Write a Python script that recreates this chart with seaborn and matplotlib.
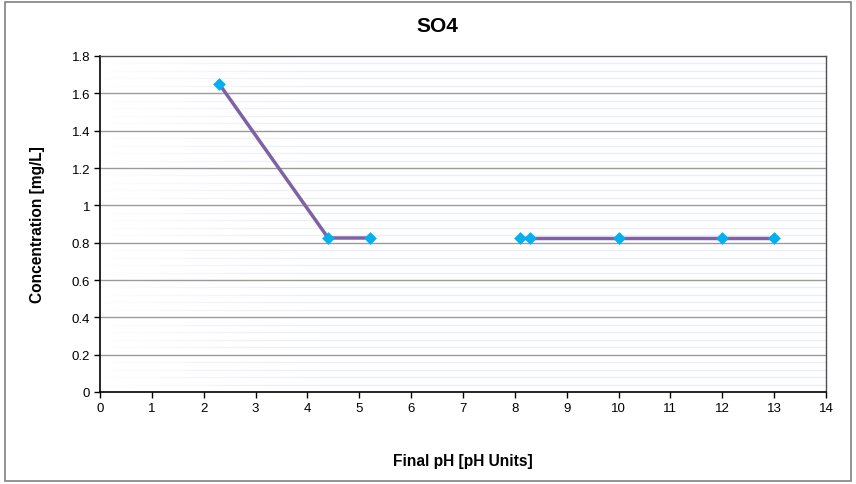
import numpy as np
import pandas as pd
import matplotlib
matplotlib.use("Agg")
import matplotlib.pyplot as plt
import seaborn as sns
from matplotlib.patches import Rectangle

ph_values = [2.3, 4.4, 5.2, 8.1, 8.3, 10, 12, 13]
so4_conc = [1.65, 0.825, 0.825, 0.825, 0.825, 0.825, 0.825, 0.825]
segment = [0, 0, 0, 1, 1, 1, 1, 1]
x_ticks = list(range(0, 15))
y_ticks = [0, 0.2, 0.4, 0.6, 0.8, 1.0, 1.2, 1.4, 1.6, 1.8]
y_tick_labels = ["0", "0.2", "0.4", "0.6", "0.8", "1", "1.2", "1.4", "1.6", "1.8"]

df = pd.DataFrame({"pH": ph_values, "conc": so4_conc, "seg": segment})

sns.set_style("white")
plt.rcParams["font.family"] = ["Liberation Sans", "DejaVu Sans"]
plt.rcParams["text.color"] = "black"
plt.rcParams["axes.labelcolor"] = "black"
plt.rcParams["xtick.color"] = "black"
plt.rcParams["ytick.color"] = "black"

fig = plt.figure(figsize=(8.56, 4.85), dpi=100)
ax = fig.add_axes([100/856, 1-393/485, 726/856, 336/485])

# faint stripes background
for yv in np.arange(0.04, 1.8, 0.04):
    if abs(yv/0.2 - round(yv/0.2)) > 1e-6:
        ax.axhline(yv, color="#e9edf6", lw=0.9, zorder=0)
# fade to white on the left
grad = np.zeros((2, 256, 4))
grad[..., :3] = 1.0
grad[..., 3] = np.linspace(1, 0, 256)[None, :] ** 1.5
ax.imshow(grad, extent=[0, 5, 0, 1.8], aspect="auto", zorder=0.5, interpolation="bilinear")

for yv in y_ticks[1:-1]:
    ax.axhline(yv, color="#9a9a9a", lw=1.0, zorder=1)

sns.lineplot(data=df, x="pH", y="conc", units="seg", estimator=None,
             color="#7f62a6", lw=2.5, ax=ax, zorder=3)
sns.scatterplot(data=df, x="pH", y="conc", marker="D", s=42, color="#00b0f0",
                edgecolor="#00b0f0", linewidth=0, ax=ax, zorder=4)

ax.set_xlim(0, 14)
ax.set_ylim(0, 1.8)
ax.set_xticks(x_ticks)
ax.set_xticklabels([str(t) for t in x_ticks], fontsize=9.5)
ax.set_yticks(y_ticks)
ax.set_yticklabels(y_tick_labels, fontsize=9.5)
ax.tick_params(axis="both", direction="out", length=4, width=1, color="black",
               labelcolor="black", pad=3)
ax.tick_params(axis="x", bottom=True)
ax.tick_params(axis="y", left=True)

for side in ["left", "bottom"]:
    ax.spines[side].set_color("black")
    ax.spines[side].set_linewidth(1.2)
for side in ["top", "right"]:
    ax.spines[side].set_color("#505050")
    ax.spines[side].set_linewidth(1.0)

ax.set_xlabel("Final pH [pH Units]", fontsize=11.2, fontweight="bold", labelpad=28, color="black")
ax.set_ylabel("Concentration [mg/L]", fontsize=11.2, fontweight="bold", labelpad=19, color="black")
fig.text(437/856, 1-27/485, "SO4", ha="center", va="center", fontsize=15, fontweight="bold", color="black")

fig.patches.append(Rectangle((5/856, 3/485), 846/856, 479/485, transform=fig.transFigure,
                             fill=False, edgecolor="#808080", lw=1.2))

fig.savefig("out.png", dpi=100)
